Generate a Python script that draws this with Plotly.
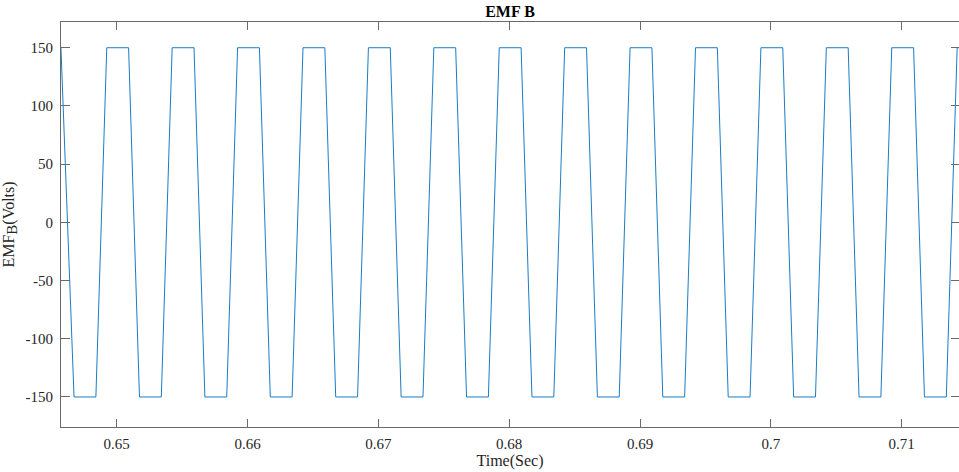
import plotly.graph_objects as go

# Corner points of the trapezoidal back-EMF waveform (seconds, volts)
time_s = [
    0.64574, 0.64674,
    0.64841, 0.64924, 0.65091, 0.65174,
    0.65341, 0.65424, 0.65591, 0.65674,
    0.65841, 0.65924, 0.66091, 0.66174,
    0.66341, 0.66424, 0.66591, 0.66674,
    0.66841, 0.66924, 0.67091, 0.67174,
    0.67341, 0.67424, 0.67591, 0.67674,
    0.67841, 0.67924, 0.68091, 0.68174,
    0.68341, 0.68424, 0.68591, 0.68674,
    0.68841, 0.68924, 0.69091, 0.69174,
    0.69341, 0.69424, 0.69591, 0.69674,
    0.69841, 0.69924, 0.70091, 0.70174,
    0.70341, 0.70424, 0.70591, 0.70674,
    0.70841, 0.70924, 0.71091, 0.71174,
    0.71341, 0.71424, 0.71500,
]
emf_b = [
    150, -150,
    -150, 150, 150, -150,
    -150, 150, 150, -150,
    -150, 150, 150, -150,
    -150, 150, 150, -150,
    -150, 150, 150, -150,
    -150, 150, 150, -150,
    -150, 150, 150, -150,
    -150, 150, 150, -150,
    -150, 150, 150, -150,
    -150, 150, 150, -150,
    -150, 150, 150, -150,
    -150, 150, 150, -150,
    -150, 150, 150, -150,
    -150, 150, 150,
]

x_ticks = [0.65, 0.66, 0.67, 0.68, 0.69, 0.70, 0.71]
x_tick_labels = ["0.65", "0.66", "0.67", "0.68", "0.69", "0.7", "0.71"]
y_ticks = [-150, -100, -50, 0, 50, 100, 150]
y_tick_labels = ["-150", "-100", "-50", "0", "50", "100", "150"]

FONT = "Liberation Serif"
AXC = "#6a6a6a"
TICKFONT = dict(family=FONT, size=15, color="#262626")
LABELFONT = dict(family=FONT, size=16, color="#262626")

fig = go.Figure()
fig.add_trace(go.Scatter(x=time_s, y=emf_b, mode="lines",
                         line=dict(color="#1a7cc4", width=1), showlegend=False,
                         hoverinfo="skip"))
# invisible trace for right-side mirrored ticks
fig.add_trace(go.Scatter(x=[time_s[0]], y=[emf_b[0]], yaxis="y2", mode="lines",
                         line=dict(width=0), showlegend=False, hoverinfo="skip"))

fig.update_layout(
    width=959, height=472,
    margin=dict(l=61, r=0, t=22, b=45),
    paper_bgcolor="white", plot_bgcolor="white",
    font=dict(family=FONT, size=15, color="#262626"),
    title=dict(text="<b>EMF B</b>", x=0.5, xref="paper", xanchor="center",
               y=1 - 11 / 472, yref="container", yanchor="middle",
               font=dict(family=FONT, size=16, color="#000000")),
    xaxis=dict(range=[0.645743, 0.714380], tickvals=x_ticks, ticktext=x_tick_labels,
               tickfont=TICKFONT,
               ticks="inside", ticklen=8, tickcolor=AXC, tickwidth=1,
               showline=True, linecolor=AXC, linewidth=1, mirror="ticks",
               showgrid=False, zeroline=False, ticklabelstandoff=3,
               title=dict(text="Time(Sec)", standoff=2, font=LABELFONT)),
    yaxis=dict(range=[-175.8, 172.1], tickvals=y_ticks, ticktext=y_tick_labels,
               tickfont=TICKFONT,
               ticks="inside", ticklen=9, tickcolor=AXC, tickwidth=1,
               showline=True, linecolor=AXC, linewidth=1,
               showgrid=False, zeroline=False, ticklabelstandoff=4,
               title=dict(text="EMF<sub><span style='font-size:15px'>B</span></sub>(Volts)",
                          standoff=8, font=LABELFONT)),
    yaxis2=dict(overlaying="y", side="right", matches="y", tickvals=y_ticks,
                ticks="inside", ticklen=8, tickcolor=AXC, tickwidth=1,
                showticklabels=False, showline=False, showgrid=False, zeroline=False),
)

fig.write_html("out.html")
